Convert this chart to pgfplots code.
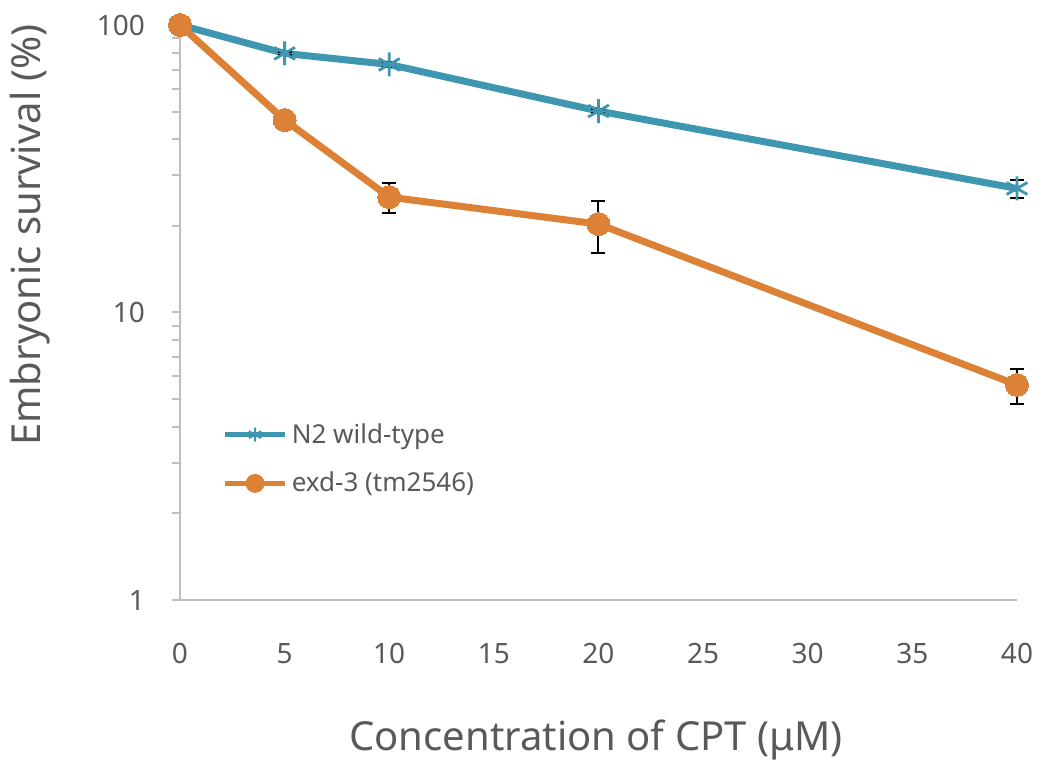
\documentclass[border=0pt]{standalone}
\usepackage{pgfplots}
\pgfplotsset{compat=1.18}
\usepackage{fontspec}
\setmainfont{Noto Sans}
\definecolor{nblue}{RGB}{62,150,176}
\definecolor{norange}{RGB}{221,129,54}
\definecolor{txtgray}{RGB}{89,89,89}
\definecolor{axgray}{RGB}{191,191,191}
\begin{document}
\begin{tikzpicture}
\path[use as bounding box] (-90pt,-81pt) rectangle (433pt,300pt);
\begin{axis}[
  at={(0,0)}, anchor=south west,
  scale only axis, width=418.5pt, height=287.5pt,
  ymode=log, ymin=1, ymax=100, xmin=0, xmax=40,
  axis x line*=bottom, axis y line*=left,
  axis line style={axgray, line width=1.2pt, -},
  xtick={0,5,...,40}, ytick={1,10,100}, yticklabels={1,10,100},
  x tick style={draw=none},
  y tick style={axgray, line width=1pt},
  minor y tick style={axgray, line width=1pt},
  tick align=outside, major tick length=4pt, minor tick length=4pt,
  /pgf/number format/assume math mode=true,
  tick label style={font=\fontsize{14}{14}\selectfont, text=txtgray},
  xticklabel style={yshift=-14pt},
  yticklabel style={xshift=-10pt},
  xlabel={Concentration of CPT (μM)},
  ylabel={Embryonic survival (\%)},
  label style={font=\fontsize{20}{20}\selectfont, text=txtgray},
  x label style={at={(rel axis cs:0.497,0)}, anchor=center, yshift=-70pt},
  y label style={at={(rel axis cs:0,0.635)}, anchor=center, yshift=75pt},
  clip=false,
  legend style={draw=none, fill=none, at={(rel axis cs:0.05,0.315)}, anchor=north west,
    font=\fontsize{13}{13}\selectfont, text=txtgray, row sep=9pt,
    inner sep=0pt},
  legend cell align=left,
  legend image code/.code={\draw[#1, mark repeat=2, mark phase=2] plot coordinates {(0pt,0pt) (15pt,0pt) (30pt,0pt)};},
]
\addplot[forget plot, nblue, line width=3.5pt, mark=asterisk, mark size=6pt,
  mark options={line width=1.4pt},
  error bars/.cd, y dir=both, y explicit,
  error bar style={black, line width=1pt}, error mark options={black, line width=1pt, mark size=3.5pt, rotate=90}]
coordinates {
 (0,100) +- (0,0)
 (5,79.7) +- (0,0.8)
 (10,72.9) +- (0,1.5)
 (20,50.2) +- (0,0.8)
 (40,27.0) +- (0,2.0)
};
\addplot[forget plot, norange, line width=3.5pt, mark=*, mark size=5.75pt,
  mark options={line width=0pt},
  error bars/.cd, y dir=both, y explicit,
  error bar style={black, line width=1pt}, error mark options={black, line width=1pt, mark size=3.5pt, rotate=90}]
coordinates {
 (0,100) +- (0,0)
 (5,46.7) +- (0,0)
 (10,25.2) +- (0,3.0)
 (20,20.3) +- (0,4.2)
 (40,5.6) +- (0,0.78)
};
\addlegendimage{nblue, line width=2.8pt, mark=asterisk, mark size=3.5pt, mark options={line width=1pt}}
\addlegendentry{N2 wild-type}
\addlegendimage{norange, line width=2.8pt, mark=*, mark size=3.3pt}
\addlegendentry{exd-3 (tm2546)}
\end{axis}
\end{tikzpicture}
\end{document}
